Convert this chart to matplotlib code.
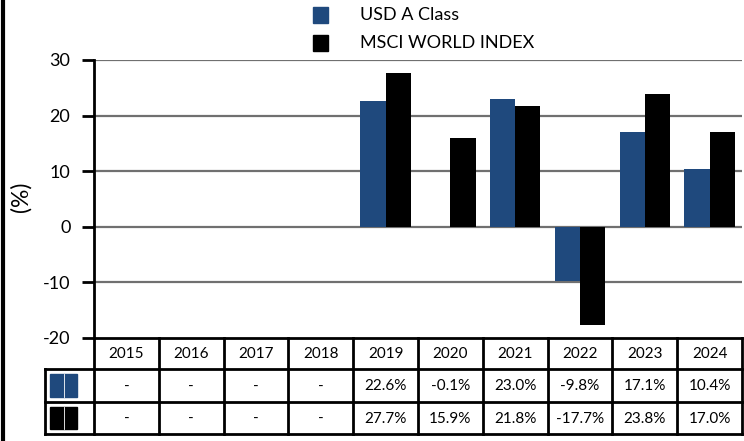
import matplotlib
matplotlib.use("Agg")
import matplotlib.pyplot as plt
from matplotlib.lines import Line2D
from matplotlib.patches import Rectangle

years = ["2015", "2016", "2017", "2018", "2019", "2020", "2021", "2022", "2023", "2024"]
usd_a_class = [None, None, None, None, 22.6, -0.1, 23.0, -9.8, 17.1, 10.4]
msci_world = [None, None, None, None, 27.7, 15.9, 21.8, -17.7, 23.8, 17.0]
series_names = ["USD A Class", "MSCI WORLD INDEX"]
yticks = [-20, -10, 0, 10, 20, 30]

BLUE = "#1F497D"
BLACK = "#000000"
FONT = "Lato"
plt.rcParams['font.family'] = [FONT, 'DejaVu Sans']

W, H = 744, 441
fig = plt.figure(figsize=(W / 100, H / 100), dpi=100)

def fx(px):
    return px / W

def fy(py):
    return 1 - py / H

ax_l, ax_r, ax_t, ax_b = 94, 742, 60, 338
ax = fig.add_axes([fx(ax_l), fy(ax_b), fx(ax_r - ax_l), (ax_b - ax_t) / H])
n = len(years)
xs = list(range(n))
bw = 0.39
for i in xs:
    if usd_a_class[i] is not None:
        ax.bar(i - bw / 2, usd_a_class[i], width=bw, color=BLUE, zorder=3)
    if msci_world[i] is not None:
        ax.bar(i + bw / 2, msci_world[i], width=bw, color=BLACK, zorder=3)
ax.set_xlim(-0.5, n - 0.5)
ax.set_ylim(-20, 30)
ax.set_yticks(yticks)
ax.set_yticklabels([str(t) for t in yticks], fontsize=13)
ax.set_xticks([])
for t in yticks[1:]:
    ax.axhline(t, color="#707070", lw=1.6, zorder=1)
for s in ["top", "right", "bottom"]:
    ax.spines[s].set_visible(False)
ax.spines["left"].set_linewidth(2)
ax.tick_params(axis="y", length=9, width=2, pad=8)
fig.text(fx(21), fy(197), "(%)", rotation=90, ha="center", va="center", fontsize=16.5)

# table
tl, tr_, tt, tb = 45, 742, 338, 434
tax = fig.add_axes([fx(tl), fy(tb), fx(tr_ - tl), (tb - tt) / H])
colw = (ax_r - ax_l) / n
lab_w = (ax_l - tl) / colw
tax.set_xlim(-0.5 - lab_w, n - 0.5)
tax.set_ylim(96, 0)
tax.axis("off")
rows_y = [0, 31, 64, 96]
lk = dict(color="black", lw=2, clip_on=False, solid_capstyle="projecting")
# horizontal lines
tax.plot([-0.5, n - 0.5], [rows_y[0]] * 2, **lk)
for yy in rows_y[1:]:
    tax.plot([-0.5 - lab_w, n - 0.5], [yy, yy], **lk)
# vertical lines
for k in range(n + 1):
    tax.plot([k - 0.5, k - 0.5], [rows_y[0], rows_y[3]], **lk)
tax.plot([-0.5 - lab_w] * 2, [rows_y[1], rows_y[3]], **lk)

def fmt(v):
    return "-" if v is None else f"{v:.1f}%"

fs_t = 11
for i, yr in enumerate(years):
    tax.text(i, (rows_y[0] + rows_y[1]) / 2 + 1, yr, ha="center", va="center", fontsize=fs_t)
    tax.text(i, (rows_y[1] + rows_y[2]) / 2 + 1, fmt(usd_a_class[i]), ha="center", va="center", fontsize=fs_t)
    tax.text(i, (rows_y[2] + rows_y[3]) / 2 + 1, fmt(msci_world[i]), ha="center", va="center", fontsize=fs_t)

# row label swatches
sw_x0 = -0.5 - lab_w + 5 / colw
sw_w = 27 / colw
for r, col in enumerate([BLUE, BLACK]):
    y0 = rows_y[r + 1] + 5
    y1 = rows_y[r + 2] - 5
    tax.add_patch(Rectangle((sw_x0, y0), sw_w, y1 - y0, color=col, clip_on=False))
    tax.plot([sw_x0 + sw_w / 2] * 2, [y0, y1], color="white", lw=0.6, clip_on=False)

# legend
for k, (name, col) in enumerate(zip(series_names, [BLUE, BLACK])):
    cy = 15 + k * 28
    fig.add_artist(Rectangle((fx(313), fy(cy + 7.5)), fx(15), 15 / H, color=col, transform=fig.transFigure))
    fig.text(fx(360), fy(cy), name, ha="left", va="center", fontsize=13)

# left border line
fig.add_artist(Line2D([fx(3), fx(3)], [0, 1], color="black", lw=3, transform=fig.transFigure))

fig.savefig("out.png", dpi=100)
